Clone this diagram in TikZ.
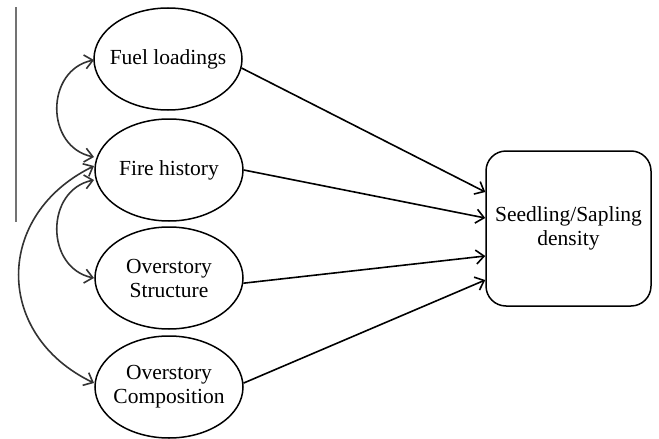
\documentclass[tikz,border=0pt]{standalone}
\usepackage{fontspec}
\setmainfont{Liberation Serif}
\usetikzlibrary{shapes.geometric,arrows.meta,calc}
\begin{document}
\begin{tikzpicture}[x=1pt,y=-1pt,
  var/.style={ellipse,draw,line width=1.5pt,minimum width=148pt,minimum height=102pt,inner xsep=-12pt,inner ysep=0pt,align=center,font=\fontsize{21.5}{24}\selectfont},
  outbox/.style={draw,line width=1.5pt,rounded corners=20pt,minimum width=165pt,minimum height=155pt,align=center,font=\fontsize{21.5}{24}\selectfont},
  effect/.style={line width=1.6pt,-{Straight Barb[length=8pt,width=14pt,line width=1.6pt]}},
  corr/.style={line width=1.6pt,draw=black!80,{Straight Barb[length=8pt,width=14pt,line width=1.6pt]}-{Straight Barb[length=8pt,width=14pt,line width=1.6pt]}}]
\useasboundingbox (0,0) rectangle (659,439);
\fill[white] (0,0) rectangle (659,439);
\draw[line width=2pt,draw=black!55] (16,7) -- (16,222);
\node[var] (fuel) at (168,59) {Fuel loadings};
\node[var] (fire) at (169,170) {Fire history};
\node[var] (struct) at (169,278) {Overstory\\Structure};
\node[var] (comp) at (169,387) {Overstory\\Composition};
\node[outbox] (box) at (568.5,228.5) {Seedling/Sapling\\density};
\draw[effect] (fuel.-7) -- ($(box.west)+(0,-36.5)$);
\draw[effect] (fire.0) -- ($(box.west)+(0,-10.5)$);
\draw[effect] (struct.-4) -- ($(box.west)+(0,27.5)$);
\draw[effect] (comp.3) -- ($(box.west)+(0,51.5)$);
\coordinate (fuelL) at (94,60);
\coordinate (fireA) at (94,157);
\coordinate (fireB) at (94,180);
\coordinate (fireC) at (94,166);
\coordinate (structL) at (94,278);
\coordinate (compL) at (94,383);
\draw[corr] (fuelL) .. controls (45,70) and (45,147) .. (fireA);
\draw[corr] (fireB) .. controls (45,190) and (45,268) .. (structL);
\draw[corr] (fireC) .. controls (-6,215) and (-6,335) .. (compL);
\end{tikzpicture}
\end{document}
